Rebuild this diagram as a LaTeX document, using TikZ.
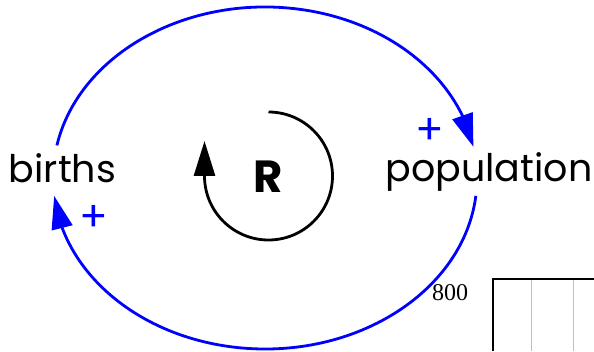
\documentclass[tikz,border=0pt]{standalone}
\usepackage{fontspec}
\setmainfont{Poppins}
\newfontfamily\serifnum{Liberation Serif}
\usetikzlibrary{arrows.meta,bending}
\definecolor{loopblue}{RGB}{0,0,255}
\begin{document}
\begin{tikzpicture}[x=1pt,y=1pt,
  link/.style={draw=loopblue,line width=2.8pt,-{Triangle[length=33pt,width=21pt]}},
  rloop/.style={draw=black,line width=2.8pt,-{Triangle[length=35pt,width=21pt]}},
  lbl/.style={font=\fontsize{38}{40}\selectfont,anchor=base,inner sep=0pt},
  pol/.style={text=loopblue,font=\fontsize{42}{42}\selectfont,inner sep=0pt},
  axisline/.style={draw=black,line width=1.4pt},
  gridline/.style={draw=black!25,line width=1pt}]
\useasboundingbox (0,0) rectangle (594,351);
% labels
\node[lbl] (births) at (62.5,168) {births};
\node[lbl] (population) at (489,169) {population};
% upper link births -> population
\draw[link] (265,173) ++(169:212 and 171) arc[start angle=169,end angle=10.5,x radius=212,y radius=171];
% lower link population -> births
\draw[link] (265,173) ++(-6:212 and 171) arc[start angle=-6,end angle=-174,x radius=212,y radius=171];
% polarities
\node[pol] (p1) at (430,220) {+};
\node[pol] (p2) at (94,133) {+};
% R loop
\node[font=\fontsize{45}{45}\selectfont\bfseries,inner sep=0pt] (R) at (268,174) {R};
\draw[rloop] (268.5,239) arc[start angle=90,end angle=-180,radius=64] -- ++(0,35);
% chart fragment
\coordinate (c0) at (493,0);
\coordinate (c1) at (493,72);
\coordinate (c2) at (594,72);
\draw[gridline] (531.5,0) -- (531.5,72);
\draw[gridline] (573.5,0) -- (573.5,72);
\draw[axisline] (c0) -- (c1) -- (c2);
\node[font=\serifnum\fontsize{24}{24}\selectfont,anchor=base,inner sep=0pt] (tick) at (450,51) {800};
\end{tikzpicture}
\end{document}
